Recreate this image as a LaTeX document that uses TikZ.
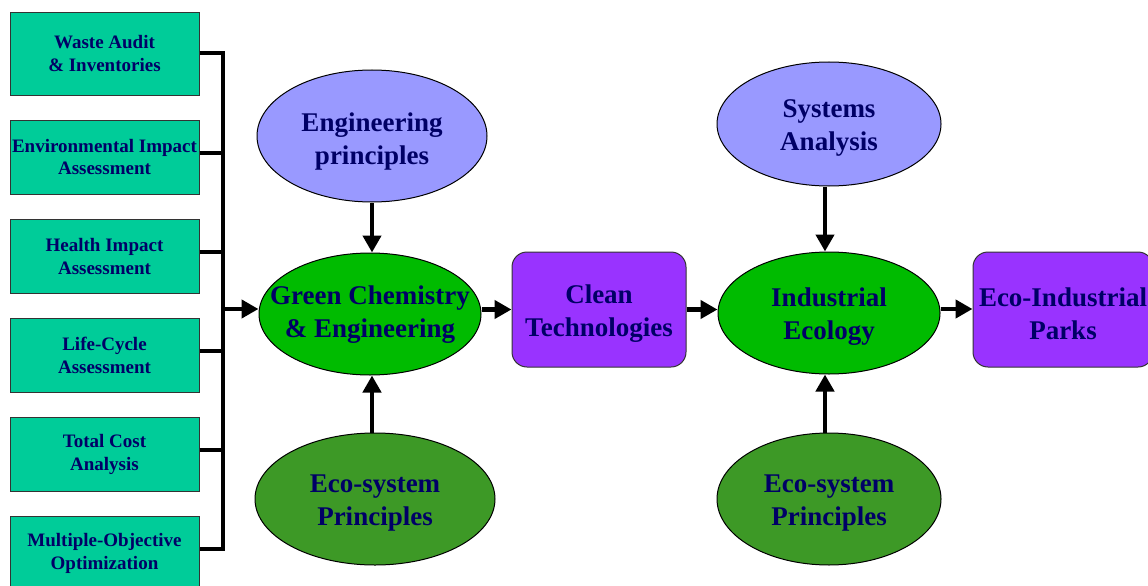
\documentclass[tikz,border=0pt]{standalone}
\usepackage{fontspec}
\setmainfont{Liberation Serif}
\usetikzlibrary{shapes.geometric,arrows.meta}
\definecolor{boxteal}{RGB}{0,204,153}
\definecolor{ovallilac}{RGB}{153,153,255}
\definecolor{ovalgreen}{RGB}{0,187,0}
\definecolor{ovalolive}{RGB}{61,153,38}
\definecolor{techviolet}{RGB}{153,51,255}
\definecolor{navytext}{RGB}{0,0,102}

\begin{document}
\begin{tikzpicture}[x=1pt,y=1pt,yscale=-1,xscale=1,
  taskbox/.style={rectangle, draw=black!80, line width=1pt, fill=boxteal, minimum width=189pt, minimum height=74pt, inner sep=0pt, align=center, text=navytext, font=\bfseries\fontsize{19}{23}\selectfont},
  oval/.style={ellipse, draw=black, line width=1pt, inner sep=0pt},
  bigtext/.style={inner sep=0pt, align=center, text=navytext, font=\bfseries\fontsize{27}{33}\selectfont, yshift=-4pt},
  techbox/.style={rectangle, rounded corners=15pt, draw=black!80, line width=1pt, fill=techviolet, minimum width=174pt, minimum height=115pt, inner sep=0pt},
  link/.style={line width=4.5pt},
  flow/.style={line width=4.5pt, -{Triangle[length=17pt,width=18pt]}}
]
\useasboundingbox (0,0) rectangle (1148,586);

% Task Boxes
\node (w1) at (104.5,54) [taskbox, minimum height=82pt] {Waste Audit\\ \& Inventories};
\node (w2) at (104.5,157) [taskbox] {Environmental Impact\\ Assessment};
\node (w3) at (104.5,256) [taskbox] {Health Impact\\ Assessment};
\node (w4) at (104.5,355) [taskbox] {Life-Cycle\\ Assessment};
\node (w5) at (104.5,454) [taskbox] {Total Cost\\ Analysis};
\node (w6) at (104.5,553) [taskbox] {Multiple-Objective\\ Optimization};

% Ovals
\node (eng) at (372,136) [oval, fill=ovallilac, minimum width=230pt, minimum height=132pt] {};
\node (eng-t) at (eng) [bigtext, yshift=-2pt] {Engineering\\ principles};
\node (gce) at (370,314) [oval, fill=ovalgreen, minimum width=222pt, minimum height=122pt] {};
\node (gce-t) at (gce) [bigtext, yshift=3pt] {Green Chemistry\\ \& Engineering};
\node (ecol) at (375,499) [oval, fill=ovalolive, minimum width=240pt, minimum height=132pt] {};
\node (ecol-t) at (ecol) [bigtext] {Eco-system\\ Principles};
\node (sys) at (829,124) [oval, fill=ovallilac, minimum width=224pt, minimum height=124pt] {};
\node (sys-t) at (sys) [bigtext] {Systems\\ Analysis};
\node (ind) at (829,313) [oval, fill=ovalgreen, minimum width=222pt, minimum height=122pt] {};
\node (ind-t) at (ind) [bigtext] {Industrial\\ Ecology};
\node (ecor) at (829,499) [oval, fill=ovalolive, minimum width=224pt, minimum height=132pt] {};
\node (ecor-t) at (ecor) [bigtext] {Eco-system\\ Principles};

% Rounded Boxes
\node (clean) at (599,309.5) [techbox] {};
\node (clean-t) at (clean) [bigtext] {Clean\\ Technologies};
\node (parks) at (1063,309.5) [techbox, minimum width=180pt] {};
\node (parks-t) at (parks) [bigtext] {Eco-Industrial\\ Parks};

% Bracket
\coordinate (jtop) at (223,53);
\coordinate (jmid) at (223,309);
\draw[link] (w1.east |- jtop) -- (jtop) -- ([yshift=-4pt]w6.east -| jtop) -- ([yshift=-4pt]w6.east);
\foreach \b in {w2,w3,w4,w5}
  \draw[link] ([yshift=-4pt]\b.east) -- ([yshift=-4pt]\b.east -| jtop);

% Connections
\draw[flow] ([xshift=-2.25pt]jmid) -- (jmid -| gce.west);
\draw[flow] (eng.south) -- (eng.south |- gce.north);
\draw[flow] (eng.south |- ecol.north) -- (eng.south |- gce.south);
\draw[flow] (gce.east |- clean.west) -- (clean.west);
\draw[flow] (clean.east) -- (clean.east -| ind.west);
\draw[flow] ([xshift=-4pt]sys.south) -- ([xshift=-4pt]sys.south |- ind.north);
\draw[flow] ([xshift=-4pt]ecor.north) -- ([xshift=-4pt]ecor.north |- ind.south);
\draw[flow] ([yshift=-4pt]ind.east) -- ([yshift=-4pt]ind.east -| parks.west);

\end{tikzpicture}
\end{document}
